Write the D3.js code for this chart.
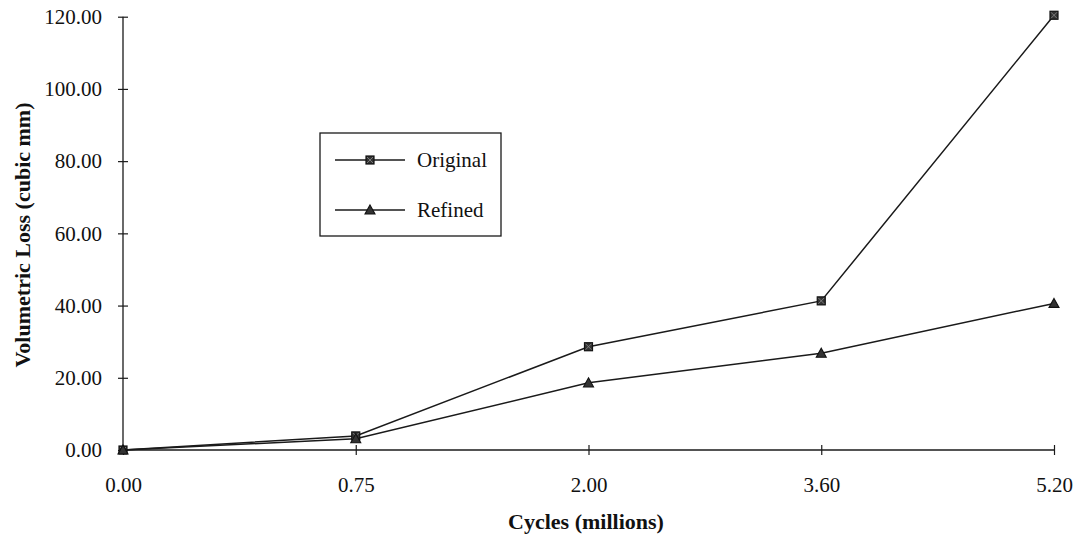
<!DOCTYPE html>
<html>
<head>
<meta charset="utf-8">
<script src="https://cdn.jsdelivr.net/npm/d3@7"></script>
<style>
  html, body { margin: 0; padding: 0; background: #fff; }
  svg { display: block; }
  text { font-family: "Liberation Serif", "Times New Roman", serif; fill: #111; }
</style>
</head>
<body>
<svg id="chart" width="1079" height="538"></svg>
<script>
const categories = ["0.00", "0.75", "2.00", "3.60", "5.20"];
const originalValues = [0, 3.9, 28.6, 41.3, 120.4];
const refinedValues = [0, 3.1, 18.6, 26.8, 40.6];
const yTicks = [0, 20, 40, 60, 80, 100, 120];
const seriesNames = ["Original", "Refined"];

const svg = d3.select("#chart");
const x = d3.scalePoint().domain(categories).range([123, 1054]);
const y = d3.scaleLinear().domain([0, 120]).range([450, 16.7]);

const ink = "#1a1a1a";

// Y axis
const yAxis = svg.append("g").attr("transform", "translate(123,0)")
  .call(d3.axisLeft(y).tickValues(yTicks).tickFormat(d3.format(".2f")).tickSize(5).tickPadding(16));
yAxis.select(".domain").attr("stroke", ink).attr("stroke-width", 1.3).attr("d", `M0,${y(0)}V${y(120)}`);
yAxis.selectAll(".tick line").attr("x1", -5).attr("x2", 5).attr("stroke", ink).attr("stroke-width", 1.2);
yAxis.selectAll(".tick text").attr("font-size", 21).attr("font-family", "Liberation Serif").attr("fill", ink);

// X axis
const xAxis = svg.append("g").attr("transform", `translate(0,${y(0)})`)
  .call(d3.axisBottom(x).tickSize(5).tickPadding(22));
xAxis.select(".domain").attr("stroke", ink).attr("stroke-width", 1.3).attr("d", `M${x(categories[0])},0H${x(categories[categories.length-1])}`);
xAxis.selectAll(".tick line").attr("y1", -5).attr("y2", 5).attr("stroke", ink).attr("stroke-width", 1.2);
xAxis.selectAll(".tick text").attr("font-size", 21).attr("font-family", "Liberation Serif").attr("fill", ink);

// Axis titles
svg.append("text")
  .attr("x", 586).attr("y", 529)
  .attr("text-anchor", "middle").attr("font-size", 22).attr("font-weight", "bold")
  .text("Cycles (millions)");
svg.append("text")
  .attr("transform", "translate(30,235) rotate(-90)")
  .attr("text-anchor", "middle").attr("font-size", 22).attr("font-weight", "bold")
  .text("Volumetric Loss (cubic mm)");

// Lines
const line = d3.line().x((d, i) => x(categories[i])).y(d => y(d));
svg.append("path").datum(originalValues).attr("d", line)
  .attr("fill", "none").attr("stroke", ink).attr("stroke-width", 1.5);
svg.append("path").datum(refinedValues).attr("d", line)
  .attr("fill", "none").attr("stroke", ink).attr("stroke-width", 1.5);

function squareMarker(g, cx, cy) {
  g.append("rect").attr("x", cx - 4).attr("y", cy - 4).attr("width", 8).attr("height", 8)
    .attr("fill", "#333").attr("stroke", "#111").attr("stroke-width", 1.2);
  g.append("path").attr("d", `M${cx-3},${cy-3}L${cx+3},${cy+3}M${cx+3},${cy-3}L${cx-3},${cy+3}`)
    .attr("stroke", "#8a8a8a").attr("stroke-width", 0.8);
}
function triMarker(g, cx, cy) {
  g.append("path").attr("d", `M${cx},${cy-5}L${cx+5},${cy+4}L${cx-5},${cy+4}Z`)
    .attr("fill", "#333").attr("stroke", "#111").attr("stroke-width", 1.1);
}

const markers = svg.append("g");
originalValues.forEach((v, i) => squareMarker(markers, x(categories[i]), y(v)));
refinedValues.forEach((v, i) => triMarker(markers, x(categories[i]), y(v)));

// Legend
const lg = svg.append("g");
lg.append("rect").attr("x", 320).attr("y", 133).attr("width", 181).attr("height", 103)
  .attr("fill", "#fff").attr("stroke", ink).attr("stroke-width", 1.3);
const legendRows = [{ name: seriesNames[0], yy: 160, mk: squareMarker }, { name: seriesNames[1], yy: 210, mk: triMarker }];
legendRows.forEach(r => {
  lg.append("line").attr("x1", 335).attr("x2", 405).attr("y1", r.yy).attr("y2", r.yy)
    .attr("stroke", ink).attr("stroke-width", 1.3);
  r.mk(lg, 370, r.yy);
  lg.append("text").attr("x", 417).attr("y", r.yy + 7).attr("font-size", 21).text(r.name);
});
</script>
</body>
</html>
